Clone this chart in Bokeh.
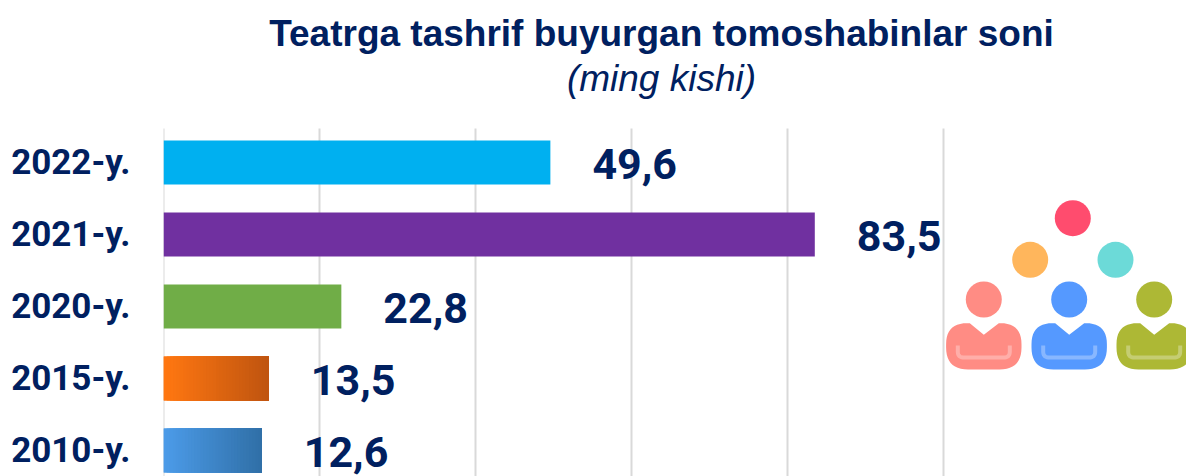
import numpy as np
from bokeh.core.properties import value
from bokeh.embed import file_html
from bokeh.models import ColumnDataSource, FixedTicker, Range1d
from bokeh.plotting import figure
from bokeh.resources import INLINE

categories = ["2010-y.", "2015-y.", "2020-y.", "2021-y.", "2022-y."]
values = [12.6, 13.5, 22.8, 83.5, 49.6]
value_labels = ["12,6", "13,5", "22,8", "83,5", "49,6"]
bar_colors = ["#4C9BE8", "#FF7711", "#70AD47", "#7030A0", "#00B0F0"]
gradient_ends = {0: "#3070A8", 1: "#C05510"}
grid_ticks = [0, 20, 40, 60, 80, 100]
title_text = "Teatrga tashrif buyurgan tomoshabinlar soni"
subtitle_text = "(ming kishi)"
NAVY = "#002060"
COND = "Roboto"

# page geometry
PX = 7.8
PY = 72.0
X0, Y0 = 163.0, 450.0


def dx(px):
    return (px - X0) / PX


def dy(py):
    return (Y0 - py) / PY


p = figure(width=1186, height=476, output_backend="svg", toolbar_location=None,
           x_range=Range1d(dx(163), dx(1186)), y_range=Range1d(dy(476), dy(0)),
           min_border_left=163, min_border_right=0, min_border_top=0, min_border_bottom=0,
           outline_line_color=None, background_fill_color="white", border_fill_color="white")
p.xaxis.visible = False
p.grid.visible = False
p.segment(x0=grid_ticks, x1=grid_ticks, y0=[dy(476)] * len(grid_ticks), y1=[dy(128)] * len(grid_ticks),
          line_color="#D9D9D9", line_width=2)

ys = list(range(len(categories)))
p.yaxis.ticker = FixedTicker(ticks=ys)
p.yaxis.major_label_overrides = {i: c for i, c in zip(ys, categories)}
p.yaxis.axis_line_color = None
p.yaxis.major_tick_line_color = None
p.yaxis.minor_tick_line_color = None
p.yaxis.major_label_standoff = 27
p.yaxis.major_label_text_font = COND
p.yaxis.major_label_text_font_style = "bold"
p.yaxis.major_label_text_font_size = "35px"
p.yaxis.major_label_text_color = NAVY

BAR_H = 44 / PY


def hex2rgb(h):
    return np.array([int(h[i:i + 2], 16) for i in (1, 3, 5)], dtype=float)


src = ColumnDataSource(dict(y=ys, right=values, color=bar_colors))
p.hbar(y="y", left=0, right="right", height=BAR_H, fill_color="color", line_color=None, source=src)

# the two older bars fade along their length: each slice runs on to the bar's end
for i, end in gradient_ends.items():
    n = 32
    start_rgb, end_rgb = hex2rgb(bar_colors[i]), hex2rgb(end)
    lefts = np.linspace(0, values[i], n, endpoint=False)
    cols = []
    for t in np.linspace(0, 1, n):
        c = start_rgb + (end_rgb - start_rgb) * t
        cols.append("#%02x%02x%02x" % tuple(int(round(v)) for v in c))
    p.hbar(y=[i] * n, left=lefts, right=[values[i]] * n, height=BAR_H,
           fill_color=cols, line_color=None)

p.text(x=values, y=ys, text=value_labels, x_offset=42, y_offset=1,
       text_font=value(COND), text_font_style="bold", text_font_size="43px",
       text_color=NAVY, text_align="left", text_baseline="middle")

p.text(x=[dx(661)], y=[dy(33)], text=[title_text], text_align="center", text_baseline="middle",
       text_font=value("Liberation Sans"), text_font_style="bold", text_font_size="37px", text_color=NAVY)
p.text(x=[dx(661)], y=[dy(78)], text=[subtitle_text], text_align="center", text_baseline="middle",
       text_font=value("Liberation Sans"), text_font_style="italic", text_font_size="37px", text_color=NAVY)

# people pictogram
heads = [(1072.3, 217.7, "#FF4C6E"), (1029.7, 259.3, "#FFB65C"), (1115, 259.3, "#6CDAD8")]
people = [(983.3, "#FF8C84"), (1068.7, "#5599FF"), (1153.7, "#ADB835")]
for hx, hy, col in heads:
    p.scatter(x=[dx(hx)], y=[dy(hy)], size=36, marker="circle", fill_color=col, line_color=None)


def rounded(points, r):
    out = []
    n = len(points)
    for k in range(n):
        a, b, c = (np.array(points[(k + s) % n], dtype=float) for s in (-1, 0, 1))
        rk = r.get(k, 0)
        if rk == 0:
            out.append(b)
            continue
        u = (a - b) / np.linalg.norm(a - b)
        v = (c - b) / np.linalg.norm(c - b)
        s, e = b + u * rk, b + v * rk
        for t in np.linspace(0, 1, 12):
            out.append((1 - t) ** 2 * s + 2 * t * (1 - t) * b + t ** 2 * e)
    return np.array(out)


body = [(-14, 322.7), (0, 334.3), (15, 322.7), (37.7, 322.7), (37.7, 369), (-37.7, 369), (-37.7, 322.7)]
for cx, col in people:
    p.scatter(x=[dx(cx)], y=[dy(299)], size=36, marker="circle", fill_color=col, line_color=None)
    shape = rounded(body, {3: 21, 4: 22, 5: 22, 6: 21})
    p.patch(x=[dx(cx + a) for a, _ in shape], y=[dy(b) for _, b in shape], fill_color=col, line_color=None)
    u = rounded([(-26, 345), (-26, 357), (26, 357), (26, 345)], {1: 6, 2: 6})
    p.line(x=[dx(cx + a) for a, _ in u], y=[dy(b) for _, b in u], line_color="white", line_alpha=0.3, line_width=4)

open("out.html", "w").write(file_html(p, INLINE))
